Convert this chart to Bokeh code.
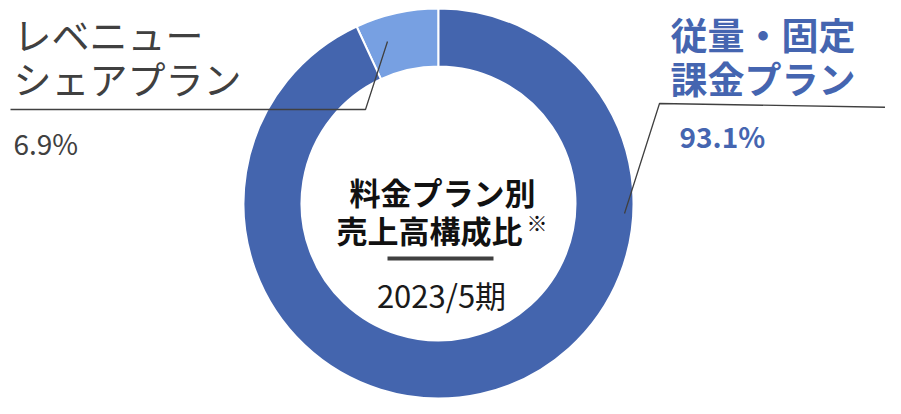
import math
from bokeh.plotting import figure
from bokeh.models import Range1d, ColumnDataSource
from bokeh.core.properties import value
from bokeh.embed import file_html
from bokeh.resources import INLINE

# ---- data ----
plans = ["レベニューシェアプラン", "従量・固定課金プラン"]
shares = [6.9, 93.1]
colors = ["#77A0E2", "#4465AE"]
left_label = ["レベニュー", "シェアプラン"]
right_label = ["従量・固定", "課金プラン"]
left_pct = "6.9%"
right_pct = "93.1%"
center_title = ["料金プラン別", "売上高構成比"]
center_note = "※"
center_period = "2023/5期"

W, H = 885, 398
FONT = value("Noto Sans CJK JP")

def Y(sy):
    # picture y (top-down) -> data y
    return H - sy

p = figure(width=W, height=H, output_backend="svg", toolbar_location=None,
           x_range=Range1d(0, W), y_range=Range1d(0, H), min_border=0)
p.axis.visible = False
p.grid.visible = False
p.outline_line_color = None
p.background_fill_color = "white"
p.border_fill_color = "white"

# ---- donut ----
cx, cy = 438, Y(203)
total = sum(shares)
starts, ends = [], []
a = math.pi / 2
for s in shares:
    starts.append(a)
    a += 2 * math.pi * s / total
    ends.append(a)
src = ColumnDataSource(dict(start=starts, end=ends, color=colors, plan=plans))
p.annular_wedge(x=cx, y=cy, inner_radius=137, outer_radius=195,
                start_angle="start", end_angle="end", fill_color="color",
                line_color="white", line_width=2, source=src)

# ---- leader lines ----
p.line(x=[387, 365, 10], y=[Y(41), Y(109), Y(109)], line_color="#404040", line_width=1.3)
p.line(x=[624, 659, 901], y=[Y(213), Y(103), Y(107)], line_color="#404040", line_width=1.3)

# ---- side labels ----
p.text(x=[13, 13], y=[Y(33), Y(77)], text=left_label, text_font=FONT,
       text_font_size="38px", text_color="#404040", text_baseline="middle", text_align="left")
p.text(x=[13], y=[Y(142)], text=[left_pct], text_font=FONT,
       text_font_size="28px", text_color="#404040", text_baseline="middle", text_align="left")
p.text(x=[670, 670], y=[Y(33), Y(77)], text=right_label, text_font=FONT,
       text_font_size="37px", text_font_style="bold", text_color="#4565B0",
       text_baseline="middle", text_align="left")
p.text(x=[679], y=[Y(135)], text=[right_pct], text_font=FONT,
       text_font_size="28px", text_font_style="bold", text_color="#4565B0",
       text_baseline="middle", text_align="left")

# ---- center ----
p.text(x=[442, 429], y=[Y(191), Y(229)], text=center_title, text_font=FONT,
       text_font_size="31px", text_font_style="bold", text_color="#111111",
       text_baseline="middle", text_align="center")
p.text(x=[526], y=[Y(221)], text=[center_note], text_font=FONT,
       text_font_size="21px", text_color="#111111", text_baseline="middle", text_align="left")
p.line(x=[387, 493], y=[Y(258), Y(258)], line_color="#404040", line_width=4)
p.text(x=[441], y=[Y(294)], text=[center_period], text_font=FONT,
       text_font_size="31px", text_color="#1a1a1a", text_baseline="middle", text_align="center")

open("out.html", "w").write(file_html(p, INLINE))
